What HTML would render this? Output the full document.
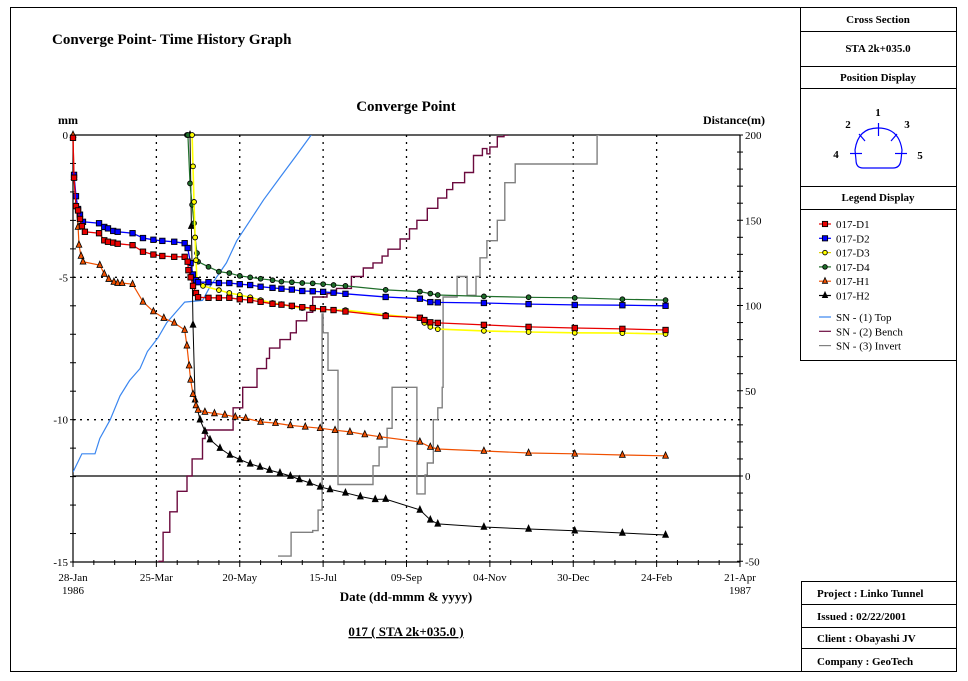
<!DOCTYPE html>
<html><head><meta charset="utf-8"><style>
body{margin:0;background:#fff;}
svg{display:block;font-family:"Liberation Serif",serif;}
</style></head><body>
<svg id="chart" width="968" height="681" viewBox="0 0 968 681" xmlns="http://www.w3.org/2000/svg">
<defs><clipPath id="plotclip"><rect x="73" y="135" width="667" height="427"/></clipPath></defs>
<rect x="10.5" y="7.5" width="946" height="664" fill="none" stroke="#000" stroke-width="1"/>
<line x1="800.5" y1="7" x2="800.5" y2="360.5" stroke="#000"/>
<g stroke="#000" fill="none">
<line x1="800" y1="31.5" x2="957" y2="31.5"/><line x1="800" y1="66.5" x2="957" y2="66.5"/>
<line x1="800" y1="88.5" x2="957" y2="88.5"/><line x1="800" y1="186.5" x2="957" y2="186.5"/>
<line x1="800" y1="209.5" x2="957" y2="209.5"/><line x1="800" y1="360.5" x2="957" y2="360.5"/>
<rect x="801.5" y="581.5" width="155" height="90"/>
<line x1="801" y1="604.5" x2="957" y2="604.5"/><line x1="801" y1="627.5" x2="957" y2="627.5"/><line x1="801" y1="648.5" x2="957" y2="648.5"/>
</g>
<g font-size="11" text-anchor="middle" font-weight="bold">
<text x="878" y="23">Cross Section</text>
<text x="878" y="52">STA 2k+035.0</text>
<text x="878" y="81">Position Display</text>
<text x="878" y="201">Legend Display</text>
</g>
<g font-size="11" font-weight="bold" text-anchor="start">
<text x="817" y="597">Project : Linko Tunnel</text>
<text x="817" y="620">Issued : 02/22/2001</text>
<text x="817" y="642">Client : Obayashi JV</text>
<text x="817" y="665">Company : GeoTech</text>
</g>
<g>
<path d="M856,160 L855,150 Q858,128 878,128 Q899,128 902,150 L901,160 Q900,168 893,168 L863,168 Q856,168 856,160 Z" fill="none" stroke="#00f" stroke-width="1.2"/>
<g stroke="#00f" stroke-width="1.2">
<line x1="878.5" y1="123" x2="878.5" y2="136"/><line x1="850" y1="153.5" x2="862" y2="153.5"/><line x1="895" y1="153.5" x2="907" y2="153.5"/>
<line x1="859" y1="134" x2="865" y2="141"/><line x1="897" y1="134" x2="891" y2="141"/>
</g>
<g font-size="11" font-weight="bold" text-anchor="middle">
<text x="878" y="116">1</text><text x="848" y="128">2</text><text x="907" y="128">3</text><text x="836" y="158">4</text><text x="920" y="159">5</text>
</g>
</g>
<g id="legend" font-size="11"></g>
<text x="52" y="44" font-size="15" font-weight="bold">Converge Point- Time History Graph</text>
<text x="406" y="111" font-size="15" font-weight="bold" text-anchor="middle">Converge Point</text>
<text x="58" y="124" font-size="12" font-weight="bold">mm</text>
<text x="703" y="124" font-size="12" font-weight="bold">Distance(m)</text>
<text x="406" y="601" font-size="13" font-weight="bold" text-anchor="middle">Date  (dd-mmm &amp; yyyy)</text>
<text x="406" y="636" font-size="13" font-weight="bold" text-anchor="middle" text-decoration="underline">017 ( STA 2k+035.0 )</text>
<g id="axes"></g>
<g id="sn" clip-path="url(#plotclip)"></g>
<g id="series"></g>
</svg>
<script>
const xTickLabels = ["28-Jan","25-Mar","20-May","15-Jul","09-Sep","04-Nov","30-Dec","24-Feb","21-Apr"];
const xTickDays = [0,56,112,168,224,280,336,392,448];
const yLeftTicks = [0,-5,-10,-15];
const yRightTicks = [200,150,100,50,0,-50];

const d1Days = [0,0.7,2,3.4,4.7,6,8,17.5,21,23.5,27,30,40,47,54,60,68,75,77,77.5,79,80.6,82.6,84,91,98,105,112,119,126,134,140,147,154,161,168,175,183,210,233,236,240,245,276,306,337,369,398];
const d1Vals = [-0.1,-1.5,-2.5,-2.65,-2.95,-3.2,-3.4,-3.45,-3.7,-3.75,-3.78,-3.82,-3.87,-4.1,-4.2,-4.25,-4.28,-4.28,-4.45,-4.75,-5.0,-5.3,-5.55,-5.7,-5.72,-5.72,-5.72,-5.77,-5.8,-5.86,-5.93,-5.96,-6.0,-6.05,-6.08,-6.12,-6.15,-6.2,-6.36,-6.42,-6.5,-6.58,-6.6,-6.67,-6.74,-6.78,-6.81,-6.85];

const d2Days = [0.7,2,3.4,4.7,6.7,17.5,21,23.5,27,30,40,47,54,60,68,75,77,79,80.6,82.6,84,91,98,105,112,119,126,134,140,147,154,161,168,175,183,210,233,240,245,276,306,337,369,398];
const d2Vals = [-1.4,-2.15,-2.6,-2.8,-3.05,-3.1,-3.23,-3.28,-3.37,-3.4,-3.45,-3.62,-3.68,-3.72,-3.75,-3.8,-3.97,-4.5,-4.9,-5.1,-5.17,-5.17,-5.2,-5.2,-5.24,-5.27,-5.33,-5.37,-5.4,-5.43,-5.48,-5.49,-5.51,-5.54,-5.58,-5.69,-5.75,-5.87,-5.88,-5.9,-5.94,-5.97,-5.98,-6.0];

const d3Days = [80,80.6,81.3,82,82.6,83.3,87.3,98,105,112,119,126,134,140,147,154,161,168,175,183,210,233,236,240,245,276,306,337,369,398];
const d3Vals = [0,-1.1,-2.35,-3.6,-4.4,-5.1,-5.3,-5.45,-5.55,-5.62,-5.7,-5.8,-5.9,-5.94,-6.03,-6.08,-6.1,-6.13,-6.15,-6.15,-6.32,-6.43,-6.6,-6.74,-6.82,-6.88,-6.92,-6.95,-6.96,-6.99];

const d4Days = [76.5,77.2,78.6,80,81.3,82,83.3,84,91,98,105,112,119,126,134,140,147,154,161,168,175,183,210,233,240,245,276,306,337,369,398];
const d4Vals = [0,0,-1.7,-2.45,-3.1,-3.6,-4.15,-4.45,-4.63,-4.8,-4.85,-4.95,-5.0,-5.05,-5.1,-5.15,-5.17,-5.2,-5.21,-5.24,-5.27,-5.3,-5.44,-5.5,-5.57,-5.62,-5.67,-5.7,-5.72,-5.77,-5.8];

const h1Days = [0,0.7,2,3.4,4,5.4,6.7,18,21,24,27.5,30,33,40,47,54,61,68,75,76.5,78,79,80.6,82.6,84,88.6,95,102,109,116,126,136,146,156,166,176,186,196,206,233,240,245,276,306,337,369,398];
const h1Vals = [0,-1.47,-2.45,-3.23,-3.86,-4.25,-4.45,-4.57,-4.88,-5.06,-5.16,-5.2,-5.2,-5.24,-5.86,-6.2,-6.43,-6.6,-6.85,-7.4,-8.1,-8.6,-9.1,-9.5,-9.66,-9.73,-9.78,-9.83,-9.9,-9.95,-10.08,-10.12,-10.2,-10.25,-10.3,-10.37,-10.43,-10.52,-10.6,-10.78,-10.96,-11.03,-11.1,-11.17,-11.2,-11.24,-11.27];

const h2Days = [78.6,79.5,80.6,82,85.3,88.6,92,98.7,105.4,112,119,125.6,132,139,146,152,159,166,172.6,183,193,203,210,233,240,245,276,306,337,369,398];
const h2Vals = [0,-3.2,-6.67,-9.3,-10.0,-10.4,-10.7,-11.0,-11.24,-11.4,-11.55,-11.66,-11.77,-11.87,-11.98,-12.1,-12.22,-12.36,-12.45,-12.57,-12.7,-12.8,-12.79,-13.17,-13.52,-13.66,-13.77,-13.84,-13.9,-13.98,-14.05];

const snTopDays = [0,6,14.8,18,25,31.6,38,45,50,57,63,70,75,87,92,103,110,119,128,139,150,160];
const snTopDist = [2.3,13,13,22,33,47,56,63,73,81,90,97,102,103,111,125,138,150,162,175,188,200];

const snBenchDays = [57,57.8,60.5,65,70,76.6,80,87,88.7,107,107.5,113.5,114,123.6,130,132,139,146,150,157,161,170.6,177,187,195,201.5,207.6,211.6,219.7,226,231,238,245,251,255,263,269,275,278,280,285,289.5,292];
const snBenchDist = [-55,-50,-33,-21,-9,0,10,22,27,27,40,40,52,63,69,75,80,84,91,96,105,107,110,117,122,125,129,133,139,145,150,157,163,168,172,178,188,192,189,193,199,200,210];

const snInvDays = [137.7,145.8,146.5,161,164.6,167.3,168,171.3,177.3,178,201.5,201.5,205.6,211,214.3,231,231,235,236.5,238,242,245,248,248.6,258,258,264,264.7,270,270.7,273.4,278,285,290,297,352,352,353];
const snInvDist = [-47,-47,-33,-32,-20,95,84,62,62,-5,-5,6,17,28,52,52,-10.5,-10.5,0.6,7.6,33,40,52,105,105,117,117,106,106,117,128,138,150,172,183,183,200,210];

const X0=73, X1=740, YT=135, YB=562;
function xs(d){return X0 + d*(X1-X0)/448;}
function yl(v){return YT - v*(YB-YT)/15;}
function yr(v){return 476 - v*(476-YT)/200;}
const NS="http://www.w3.org/2000/svg";
function mk(tag, attrs, parent){const e=document.createElementNS(NS,tag);for(const k in attrs)e.setAttribute(k,attrs[k]);parent.appendChild(e);return e;}

const axes=document.getElementById('axes');
for(let i=1;i<xTickDays.length-1;i++){
  const g=mk('line',{x1:xs(xTickDays[i]),y1:YT,x2:xs(xTickDays[i]),y2:YB,stroke:'#000','stroke-width':1.3,'stroke-dasharray':'2,5'},axes);
  
  
}
[-5,-10].forEach(v=>{
  const g=mk('line',{x1:X0,y1:yl(v),x2:X1,y2:yl(v),stroke:'#000','stroke-width':1.3,'stroke-dasharray':'2,5'},axes);
  
  
});
mk('line',{x1:X0,y1:YT,x2:X1,y2:YT,stroke:'#000','stroke-width':1.2},axes);
mk('line',{x1:X0,y1:YB,x2:X1,y2:YB,stroke:'#000','stroke-width':1.2},axes);
mk('line',{x1:X0,y1:YT,x2:X0,y2:YB,stroke:'#000','stroke-width':1.2},axes);
mk('line',{x1:X1,y1:YT,x2:X1,y2:YB,stroke:'#000','stroke-width':1.2},axes);
const zl=mk('line',{x1:X0,y1:yr(0),x2:X1,y2:yr(0),stroke:'#000','stroke-width':1.2},axes);


for(let d=0; d<=448; d+=14){
  const major = d%56===0;
  mk('line',{x1:xs(d),y1:YB-2,x2:xs(d),y2:YB+(major?5:3),stroke:'#000'},axes);
}
xTickLabels.forEach((t,i)=>{
  const tx=mk('text',{x:xs(xTickDays[i]),y:581,'font-size':11,'text-anchor':'middle'},axes);
  tx.textContent=t;
  
  
});
const y1=mk('text',{x:xs(0),y:594,'font-size':11,'text-anchor':'middle'},axes); y1.textContent='1986';
const y2=mk('text',{x:xs(448),y:594,'font-size':11,'text-anchor':'middle'},axes); y2.textContent='1987';
for(let v=0; v>=-15; v--){ mk('line',{x1:X0-3,y1:yl(v),x2:X0+3,y2:yl(v),stroke:'#000'},axes); }
yLeftTicks.forEach(v=>{
  const tx=mk('text',{x:X0-5,y:yl(v)+4,'font-size':11,'text-anchor':'end'},axes);
  tx.textContent=String(v);
  
  
});
for(let v=-50; v<=200; v+=10){ mk('line',{x1:X1-3,y1:yr(v),x2:X1+3,y2:yr(v),stroke:'#000'},axes); }
yRightTicks.forEach(v=>{
  const tx=mk('text',{x:X1+5,y:yr(v)+4,'font-size':11,'text-anchor':'start'},axes);
  tx.textContent=String(v);
  
  
});

function stepPath(days,dist){
  let p='M'+xs(days[0]).toFixed(1)+','+yr(dist[0]).toFixed(1);
  for(let i=1;i<days.length;i++){
    p+=' H'+xs(days[i]).toFixed(1)+' V'+yr(dist[i]).toFixed(1);
  }
  return p;
}
function linePath(days,dist){
  return days.map((d,i)=>(i?'L':'M')+xs(d).toFixed(1)+','+yr(dist[i]).toFixed(1)).join(' ');
}
const sn=document.getElementById('sn');
const snTop=mk('path',{d:linePath(snTopDays,snTopDist),fill:'none',stroke:'#3a86f0','stroke-width':1.2},sn);


const snBench=mk('path',{d:stepPath(snBenchDays,snBenchDist),fill:'none',stroke:'#6b0a3e','stroke-width':1.4},sn);


const snInv=mk('path',{d:stepPath(snInvDays,snInvDist),fill:'none',stroke:'#808080','stroke-width':1.4},sn);



function marker(shape,x,y,fill,parent,s){
  if(shape==='sq') return mk('rect',{x:x-s,y:y-s,width:2*s,height:2*s,fill:fill,stroke:'#000','stroke-width':0.9},parent);
  if(shape==='ci') return mk('circle',{cx:x,cy:y,r:s,fill:fill,stroke:'#000','stroke-width':0.9},parent);
  return mk('polygon',{points:`${x},${y-s-1} ${x-s},${y+s-0.5} ${x+s},${y+s-0.5}`,fill:fill,stroke:'#000','stroke-width':0.8},parent);
}
const ser=document.getElementById('series');
function drawSeries(name,days,vals,color,shape,mfill,s,lw){
  const g=mk('g',{},ser);
  
  
  const pts=days.map((d,i)=>xs(d).toFixed(1)+','+yl(vals[i]).toFixed(1)).join(' ');
  mk('polyline',{points:pts,fill:'none',stroke:color,'stroke-width':lw},g);
  days.forEach((d,i)=>{
    const m=marker(shape,xs(d),yl(vals[i]),mfill,g,s);
    
    
  });
}
drawSeries('series-017-h2',h2Days,h2Vals,'#000','tri','#000',2.9,1);
drawSeries('series-017-h1',h1Days,h1Vals,'#f05000','tri','#f05000',2.9,1.2);
drawSeries('series-017-d4',d4Days,d4Vals,'#1f6e2a','ci','#1f6e2a',2.4,1.2);
drawSeries('series-017-d3',d3Days,d3Vals,'#ffff00','ci','#ffff00',2.4,1.6);
drawSeries('series-017-d2',d2Days,d2Vals,'#0000ff','sq','#0000ff',2.7,1.3);
drawSeries('series-017-d1',d1Days,d1Vals,'#e80000','sq','#e80000',2.7,1.3);

const lg=document.getElementById('legend');
const legItems=[['017-D1','#e80000','sq'],['017-D2','#0000ff','sq'],['017-D3','#ffff00','ci'],['017-D4','#1f6e2a','ci'],['017-H1','#f05000','tri'],['017-H2','#000','tri']];
legItems.forEach((it,i)=>{
  const y=224+i*14.3;
  const g=mk('g',{},lg);
  
  
  mk('line',{x1:819,y1:y,x2:831,y2:y,stroke:it[1]==='#ffff00'?'#e0d000':it[1],'stroke-width':1.2},g);
  marker(it[2],825,y,it[1],g,it[2]==='ci'?2.3:2.6);
  const t=mk('text',{x:836,y:y+4,'font-size':11},g); t.textContent=it[0];
});
[['SN - (1) Top','#3a86f0'],['SN - (2) Bench','#6b0a3e'],['SN - (3) Invert','#808080']].forEach((it,i)=>{
  const y=317+i*14.3;
  const g=mk('g',{},lg);
  
  
  mk('line',{x1:819,y1:y,x2:831,y2:y,stroke:it[1],'stroke-width':1.2},g);
  const t=mk('text',{x:836,y:y+4,'font-size':11},g); t.textContent=it[0];
});
</script>
</body></html>
